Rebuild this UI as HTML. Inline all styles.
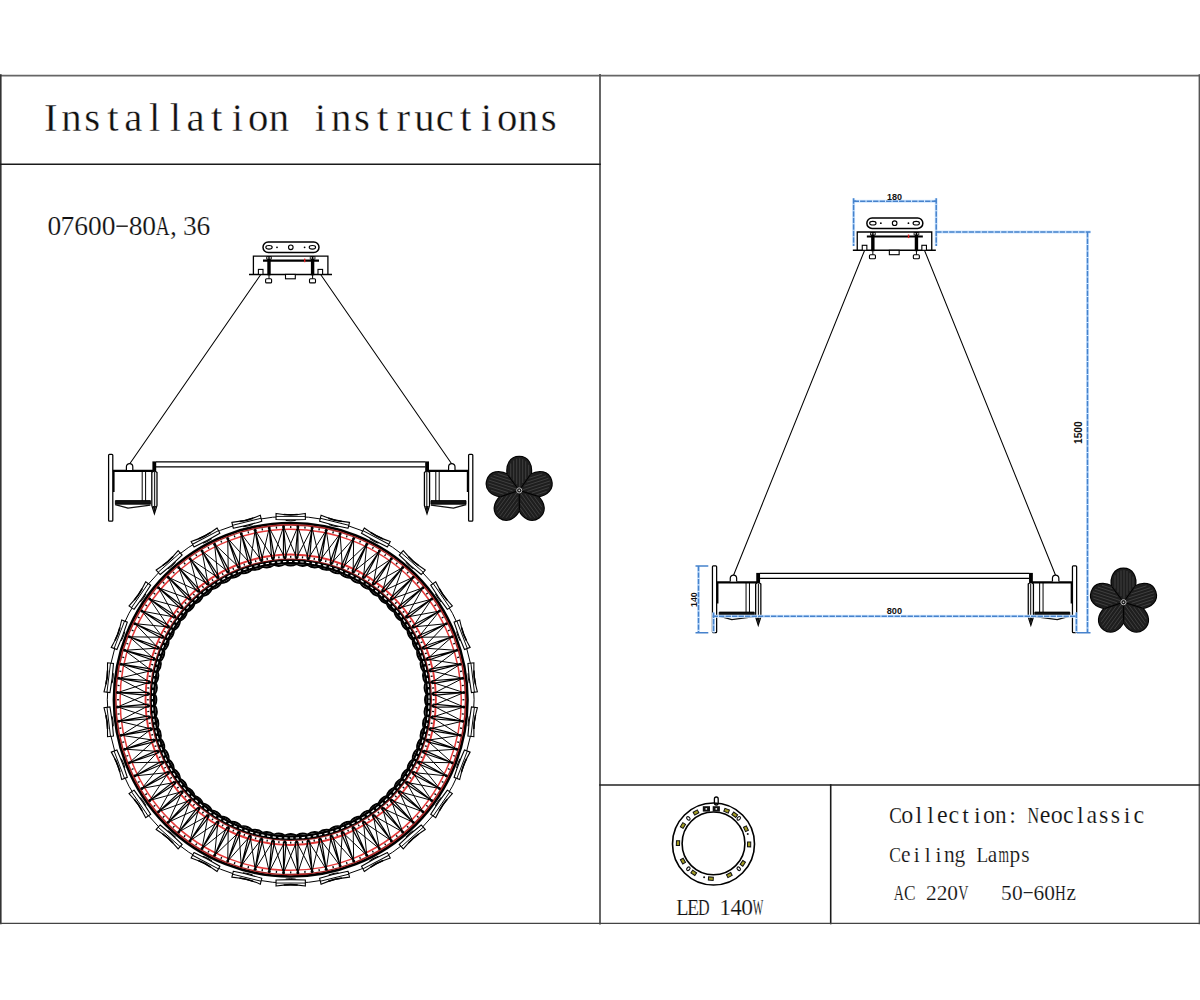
<!DOCTYPE html>
<html><head><meta charset="utf-8"><title>Installation instructions</title>
<style>html,body{margin:0;padding:0;background:#fff;width:1200px;height:1000px;overflow:hidden}svg{display:block}</style>
</head><body><svg width="1200" height="1000" viewBox="0 0 1200 1000"><g fill="none" stroke-linecap="square"><line x1="0" y1="75.6" x2="1200" y2="75.6" stroke="#666" stroke-width="1.6"/><line x1="0.8" y1="75" x2="0.8" y2="923.5" stroke="#333" stroke-width="1.6"/><line x1="1199.3" y1="75" x2="1199.3" y2="923.5" stroke="#555" stroke-width="1.4"/><line x1="600" y1="75" x2="600" y2="923.5" stroke="#555" stroke-width="1.8"/><line x1="0" y1="164.2" x2="600" y2="164.2" stroke="#1a1a1a" stroke-width="1.6"/><line x1="600" y1="785" x2="1200" y2="785" stroke="#222" stroke-width="1.6"/><line x1="830.7" y1="785" x2="830.7" y2="923.5" stroke="#1a1a1a" stroke-width="1.6"/><line x1="0" y1="923.4" x2="1200" y2="923.4" stroke="#444" stroke-width="1.4"/></g><g font-family="Liberation Serif" font-size="40.8" fill="#111" stroke="#fff" stroke-width="0.35"><text x="43.99" y="131">I</text><text x="61.19" y="131">n</text><text x="84.26" y="131">s</text><text x="107.3" y="131">t</text><text x="124.31" y="131">a</text><text x="148.88" y="131">l</text><text x="169.63" y="131">l</text><text x="186.56" y="131">a</text><text x="211.05" y="131">t</text><text x="231.84" y="131">i</text><text x="248.1" y="131">o</text><text x="268.69" y="131">n</text><text x="314.84" y="131">i</text><text x="330.94" y="131">n</text><text x="354.01" y="131">s</text><text x="377.05" y="131">t</text><text x="396.53" y="131">r</text><text transform="translate(424.3 131) scale(0.996 1.000)" x="-10.12" y="0">u</text><text x="435.85" y="131">c</text><text x="460.05" y="131">t</text><text x="480.84" y="131">i</text><text x="497.1" y="131">o</text><text x="517.69" y="131">n</text><text x="540.76" y="131">s</text></g><g font-family="Liberation Serif" font-size="27.5" fill="#111" stroke="#fff" stroke-width="0.2"><text x="47.38" y="235">0</text><text x="60.43" y="235">7</text><text x="74.33" y="235">6</text><text x="88.09" y="235">0</text><text x="101.66" y="235">0</text><rect x="116.4" y="225.49" width="11.4" height="1.38" stroke="none"/><text x="128.8" y="235">8</text><text x="142.37" y="235">0</text><text transform="translate(162.81 235) scale(0.700 1.000)" x="-9.96" y="0">A</text><text x="169.89" y="235">,</text><text x="182.95" y="235">3</text><text x="196.46" y="235">6</text></g><g font-family="Liberation Serif" font-size="24" fill="#111" stroke="#fff" stroke-width="0.15"><text transform="translate(895.5 823.3) scale(0.786 1.000)" x="-7.83" y="0">C</text><text transform="translate(907.2 823.3) scale(1.000 1.090)" x="-6" y="0">o</text><text x="915.57" y="823.3">l</text><text x="927.27" y="823.3">l</text><text transform="translate(942.3 823.3) scale(1.000 1.090)" x="-5.38" y="0">e</text><text transform="translate(954 823.3) scale(1.000 1.090)" x="-5.41" y="0">c</text><text x="962.32" y="823.3">t</text><text x="974.04" y="823.3">i</text><text transform="translate(989.1 823.3) scale(1.000 1.090)" x="-6" y="0">o</text><text transform="translate(1000.8 823.3) scale(0.971 1.090)" x="-6.09" y="0">n</text><text x="1009.19" y="823.3">:</text></g><g font-family="Liberation Serif" font-size="24" fill="#111" stroke="#fff" stroke-width="0.15"><text transform="translate(1033.3 823.3) scale(0.671 1.000)" x="-8.74" y="0">N</text><text transform="translate(1045.03 823.3) scale(1.000 1.090)" x="-5.38" y="0">e</text><text transform="translate(1056.76 823.3) scale(1.000 1.090)" x="-6" y="0">o</text><text transform="translate(1068.49 823.3) scale(1.000 1.090)" x="-5.41" y="0">c</text><text x="1076.89" y="823.3">l</text><text transform="translate(1091.95 823.3) scale(1.000 1.090)" x="-5.58" y="0">a</text><text transform="translate(1103.68 823.3) scale(1.000 1.090)" x="-4.73" y="0">s</text><text transform="translate(1115.41 823.3) scale(1.000 1.090)" x="-4.73" y="0">s</text><text x="1123.78" y="823.3">i</text><text transform="translate(1138.87 823.3) scale(1.000 1.090)" x="-5.41" y="0">c</text></g><g font-family="Liberation Serif" font-size="21.4" fill="#111" stroke="#fff" stroke-width="0.15"><text transform="translate(895 861.9) scale(0.819 1.000)" x="-6.99" y="0">C</text><text transform="translate(905.87 861.9) scale(1.000 1.090)" x="-4.8" y="0">e</text><text x="913.75" y="861.9">i</text><text x="924.64" y="861.9">l</text><text x="935.49" y="861.9">i</text><text transform="translate(949.35 861.9) scale(1.000 1.090)" x="-5.43" y="0">n</text><text transform="translate(960.22 861.9) scale(1.000 1.090)" x="-5.61" y="0">g</text><text transform="translate(981.96 861.9) scale(0.895 1.000)" x="-6.2" y="0">L</text><text transform="translate(992.83 861.9) scale(1.000 1.090)" x="-4.98" y="0">a</text><text transform="translate(1003.7 861.9) scale(0.630 1.090)" x="-8.38" y="0">m</text><text transform="translate(1014.57 861.9) scale(1.000 1.090)" x="-5.1" y="0">p</text><text transform="translate(1025.44 861.9) scale(1.000 1.090)" x="-4.22" y="0">s</text></g><g font-family="Liberation Serif" font-size="21.4" fill="#111" stroke="#fff" stroke-width="0.15"><text transform="translate(898.8 899.5) scale(0.657 1.000)" x="-7.75" y="0">A</text><text transform="translate(909.58 899.5) scale(0.812 1.000)" x="-6.99" y="0">C</text><text x="925.91" y="899.5">2</text><text x="936.69" y="899.5">2</text><text x="947.35" y="899.5">0</text><text transform="translate(963.48 899.5) scale(0.662 1.000)" x="-7.73" y="0">V</text><text x="1001.05" y="899.5">5</text><text x="1012.03" y="899.5">0</text><rect x="1023.63" y="892.08" width="9.06" height="1.1" stroke="none"/><text x="1033.45" y="899.5">6</text><text x="1044.37" y="899.5">0</text><text transform="translate(1060.5 899.5) scale(0.698 1.000)" x="-7.72" y="0">H</text><text transform="translate(1071.28 899.5) scale(1.000 1.090)" x="-4.74" y="0">z</text></g><g font-family="Liberation Serif" font-size="23.5" fill="#111" stroke="#fff" stroke-width="0.15"><text transform="translate(682 914.5) scale(0.858 1.000)" x="-6.81" y="0">L</text><text transform="translate(692.85 914.5) scale(0.841 1.000)" x="-6.93" y="0">E</text><text transform="translate(703.7 914.5) scale(0.685 1.000)" x="-8.35" y="0">D</text><text x="719.2" y="914.5">1</text><text transform="translate(736.25 914.5) scale(0.963 1.000)" x="-5.92" y="0">4</text><text x="741.23" y="914.5">0</text><text transform="translate(757.95 914.5) scale(0.476 1.000)" x="-11.08" y="0">W</text></g><defs><g id="canopy"><rect x="263" y="242" width="56" height="10.5" rx="5.25" fill="#fff" stroke="#000" stroke-width="1.5"/><ellipse cx="269" cy="247.3" rx="3.2" ry="1.8" fill="none" stroke="#000" stroke-width="1.1"/><ellipse cx="312.4" cy="247.3" rx="3.2" ry="1.8" fill="none" stroke="#000" stroke-width="1.1"/><circle cx="277" cy="247.3" r="0.9" fill="#000"/><circle cx="304.6" cy="247.3" r="0.9" fill="#000"/><circle cx="290.8" cy="247.3" r="2.3" fill="none" stroke="#000" stroke-width="1.1"/><path d="M253.4 274.4V256.1H327.9V274.4" fill="none" stroke="#000" stroke-width="1.3"/><line x1="249" y1="274.4" x2="332" y2="274.4" stroke="#000" stroke-width="1.5"/><line x1="263" y1="260.6" x2="319" y2="260.6" stroke="#000" stroke-width="2.2"/><rect x="267.3" y="256.3" width="3.4" height="19" fill="#000"/><rect x="310.9" y="256.3" width="3.4" height="19" fill="#000"/><rect x="258.4" y="269.4" width="4.6" height="5" fill="#fff" stroke="#000" stroke-width="1.1"/><rect x="318" y="269.4" width="4.6" height="5" fill="#fff" stroke="#000" stroke-width="1.1"/><rect x="285.5" y="274.4" width="9.8" height="4.4" fill="#fff" stroke="#000" stroke-width="1.1"/><rect x="265.6" y="278.8" width="6" height="4.1" rx="1" fill="#fff" stroke="#000" stroke-width="1.1"/><rect x="309.5" y="278.8" width="6" height="4.1" rx="1" fill="#fff" stroke="#000" stroke-width="1.1"/><line x1="269" y1="275" x2="269" y2="278.8" stroke="#000" stroke-width="1"/><line x1="312.6" y1="275" x2="312.6" y2="278.8" stroke="#000" stroke-width="1"/><rect x="304" y="258.6" width="1.4" height="3.6" fill="#e02020"/><rect x="266.2" y="256.4" width="5.6" height="3" fill="#000"/><rect x="309.8" y="256.4" width="5.6" height="3" fill="#000"/><g fill="#ddd"><rect x="266.9" y="257.2" width="1.5" height="1.4"/><rect x="269.6" y="257.2" width="1.5" height="1.4"/><rect x="310.5" y="257.2" width="1.5" height="1.4"/><rect x="313.2" y="257.2" width="1.5" height="1.4"/></g></g><g id="lamp"><rect x="108.6" y="454.4" width="4.2" height="66.8" rx="0.9" fill="#fff" stroke="#000" stroke-width="1.25"/><line x1="112.8" y1="470.8" x2="155.2" y2="470.8" stroke="#000" stroke-width="2.3"/><path d="M126.4 470V466.8A3.2 3.2 0 0 1 132.8 466.8V470" fill="#fff" stroke="#000" stroke-width="1.2"/><line x1="113.8" y1="471" x2="113.8" y2="492" stroke="#000" stroke-width="1.6"/><line x1="142.2" y1="471" x2="142.2" y2="501" stroke="#000" stroke-width="1"/><line x1="145.6" y1="471" x2="145.6" y2="501" stroke="#000" stroke-width="1"/><path d="M115.4 500.6H150.4V504.2H115.4Z" fill="#111" stroke="#000" stroke-width="0.9"/><path d="M115.2 504.6Q120 506 128 508.2L150.4 505.2" fill="none" stroke="#111" stroke-width="1.3"/><path d="M151.8 472.5Q154.4 469.5 157 472.5V505.5L154.4 513.6L151.8 505.5Z" fill="#f4f4f4" stroke="#000" stroke-width="1.25"/><path d="M154.6 472V506L154.4 512" stroke="#222" stroke-width="1.1" fill="none"/><path d="M152.6 506L154.4 512.5L156.2 506Z" fill="#111"/><rect x="152.4" y="461.4" width="3.8" height="10" fill="#000"/><g transform="translate(581.4 0) scale(-1 1)"><rect x="108.6" y="454.4" width="4.2" height="66.8" rx="0.9" fill="#fff" stroke="#000" stroke-width="1.25"/><line x1="112.8" y1="470.8" x2="155.2" y2="470.8" stroke="#000" stroke-width="2.3"/><path d="M126.4 470V466.8A3.2 3.2 0 0 1 132.8 466.8V470" fill="#fff" stroke="#000" stroke-width="1.2"/><line x1="113.8" y1="471" x2="113.8" y2="492" stroke="#000" stroke-width="1.6"/><line x1="142.2" y1="471" x2="142.2" y2="501" stroke="#000" stroke-width="1"/><line x1="145.6" y1="471" x2="145.6" y2="501" stroke="#000" stroke-width="1"/><path d="M115.4 500.6H150.4V504.2H115.4Z" fill="#111" stroke="#000" stroke-width="0.9"/><path d="M115.2 504.6Q120 506 128 508.2L150.4 505.2" fill="none" stroke="#111" stroke-width="1.3"/><path d="M151.8 472.5Q154.4 469.5 157 472.5V505.5L154.4 513.6L151.8 505.5Z" fill="#f4f4f4" stroke="#000" stroke-width="1.25"/><path d="M154.6 472V506L154.4 512" stroke="#222" stroke-width="1.1" fill="none"/><path d="M152.6 506L154.4 512.5L156.2 506Z" fill="#111"/><rect x="152.4" y="461.4" width="3.8" height="10" fill="#000"/></g><path d="M156 461.8H425.4M156 466.8H425.4" stroke="#000" stroke-width="1.3" fill="none"/></g></defs><use href="#canopy"/><path d="M260.6 274.8L129.6 464M320.8 274.8L451.8 464" stroke="#000" stroke-width="1.05" fill="none"/><use href="#lamp"/><g fill="#000" stroke="#000" stroke-width="2" stroke-linejoin="round"><path d="M519.2 490.4L507.6 474.8C505.8 465.3 510 456.8 519.2 456.8C528.4 456.8 532.6 465.3 530.8 474.8Z"/><path d="M519.2 490.4L530.45 474.55C538.93 469.9 548.31 471.27 551.16 480.02C554 488.77 547.21 495.39 537.62 496.61Z"/><path d="M519.2 490.4L537.75 496.2C544.79 502.83 546.39 512.18 538.95 517.58C531.51 522.99 523.11 518.58 518.98 509.84Z"/><path d="M519.2 490.4L519.42 509.84C515.29 518.58 506.89 522.99 499.45 517.58C492.01 512.18 493.61 502.83 500.65 496.2Z"/><path d="M519.2 490.4L500.78 496.61C491.19 495.39 484.4 488.77 487.24 480.02C490.09 471.27 499.47 469.9 507.95 474.55Z"/></g><g fill="#1e1e1e"><path d="M519.2 490.4L507.6 474.8C505.8 465.3 510 456.8 519.2 456.8C528.4 456.8 532.6 465.3 530.8 474.8Z"/><path d="M519.2 490.4L530.45 474.55C538.93 469.9 548.31 471.27 551.16 480.02C554 488.77 547.21 495.39 537.62 496.61Z"/><path d="M519.2 490.4L537.75 496.2C544.79 502.83 546.39 512.18 538.95 517.58C531.51 522.99 523.11 518.58 518.98 509.84Z"/><path d="M519.2 490.4L519.42 509.84C515.29 518.58 506.89 522.99 499.45 517.58C492.01 512.18 493.61 502.83 500.65 496.2Z"/><path d="M519.2 490.4L500.78 496.61C491.19 495.39 484.4 488.77 487.24 480.02C490.09 471.27 499.47 469.9 507.95 474.55Z"/></g><path d="M510.7 476.77L510.7 463.46M513.7 480.52L513.7 460.46M516.7 484.27L516.7 458.75M519.7 486.77L519.7 458.32M522.7 483.02L522.7 459.17M525.7 479.27L525.7 461.32M528.7 475.52L528.7 464.75M529.53 478.11L542.19 473.99M526.89 482.12L545.97 475.92M524.25 486.13L548.53 478.24M522.8 489.76L549.87 480.96M527.3 491.45L549.98 484.08M531.79 493.14L548.87 487.59M536.28 494.84L546.53 491.51M534.09 496.43L541.91 507.2M529.45 495.16L541.25 511.39M524.82 493.89L539.83 514.54M520.93 493.63L537.65 516.65M520.7 498.42L534.72 517.72M520.48 503.22L531.04 517.75M520.26 508.02L526.59 516.74M518.07 506.42L510.24 517.19M517.85 501.62L506.05 517.85M517.62 496.82L502.62 517.48M516.66 493.04L499.94 516.06M512.03 494.31L498.01 513.6M507.4 495.58L496.85 510.11M502.77 496.85L496.44 505.57M503.62 494.27L490.95 490.16M508.11 492.58L489.03 486.38M512.6 490.88L488.32 483M515.91 488.8L488.84 480.01M513.27 484.79L490.58 477.42M510.63 480.78L493.55 475.23M507.99 476.77L497.74 473.44" stroke="#4d4d4d" stroke-width="0.7" fill="none"/><path d="M519.2 490.4L507.6 474.8M519.2 490.4L530.45 474.55M519.2 490.4L537.75 496.2M519.2 490.4L519.42 509.84M519.2 490.4L500.78 496.61" stroke="#000" stroke-width="1" fill="none"/><circle cx="519.2" cy="490.4" r="2.6" fill="#1a1a1a" stroke="#bbb" stroke-width="1"/><circle cx="519.2" cy="490.4" r="0.8" fill="#ddd"/><circle cx="290.7" cy="699.75" r="183.4" fill="none" stroke="#000" stroke-width="1"/><defs><g id="crys" stroke="#000" stroke-width="1.1" fill="none"><path d="M-14.65 -3Q0 -0.6 14.65 -3L14.65 3Q0 3.9 -14.65 3Z" fill="#fff"/><path d="M-14.65 0H14.65" stroke-width="0.9"/><path d="M-7 -2Q0 -1.1 7 -2" stroke-width="1.6"/><path d="M-5 4Q0 4.8 5 4" stroke-width="1"/></g></defs><use href="#crys" transform="translate(290.7 699.75) rotate(0) translate(0 -183.3)"/><use href="#crys" transform="translate(290.7 699.75) rotate(13.85) translate(0 -183.3)"/><use href="#crys" transform="translate(290.7 699.75) rotate(27.69) translate(0 -183.3)"/><use href="#crys" transform="translate(290.7 699.75) rotate(41.54) translate(0 -183.3)"/><use href="#crys" transform="translate(290.7 699.75) rotate(55.38) translate(0 -183.3)"/><use href="#crys" transform="translate(290.7 699.75) rotate(69.23) translate(0 -183.3)"/><use href="#crys" transform="translate(290.7 699.75) rotate(83.08) translate(0 -183.3)"/><use href="#crys" transform="translate(290.7 699.75) rotate(96.92) translate(0 -183.3)"/><use href="#crys" transform="translate(290.7 699.75) rotate(110.77) translate(0 -183.3)"/><use href="#crys" transform="translate(290.7 699.75) rotate(124.62) translate(0 -183.3)"/><use href="#crys" transform="translate(290.7 699.75) rotate(138.46) translate(0 -183.3)"/><use href="#crys" transform="translate(290.7 699.75) rotate(152.31) translate(0 -183.3)"/><use href="#crys" transform="translate(290.7 699.75) rotate(166.15) translate(0 -183.3)"/><use href="#crys" transform="translate(290.7 699.75) rotate(180) translate(0 -183.3)"/><use href="#crys" transform="translate(290.7 699.75) rotate(193.85) translate(0 -183.3)"/><use href="#crys" transform="translate(290.7 699.75) rotate(207.69) translate(0 -183.3)"/><use href="#crys" transform="translate(290.7 699.75) rotate(221.54) translate(0 -183.3)"/><use href="#crys" transform="translate(290.7 699.75) rotate(235.38) translate(0 -183.3)"/><use href="#crys" transform="translate(290.7 699.75) rotate(249.23) translate(0 -183.3)"/><use href="#crys" transform="translate(290.7 699.75) rotate(263.08) translate(0 -183.3)"/><use href="#crys" transform="translate(290.7 699.75) rotate(276.92) translate(0 -183.3)"/><use href="#crys" transform="translate(290.7 699.75) rotate(290.77) translate(0 -183.3)"/><use href="#crys" transform="translate(290.7 699.75) rotate(304.62) translate(0 -183.3)"/><use href="#crys" transform="translate(290.7 699.75) rotate(318.46) translate(0 -183.3)"/><use href="#crys" transform="translate(290.7 699.75) rotate(332.31) translate(0 -183.3)"/><use href="#crys" transform="translate(290.7 699.75) rotate(346.15) translate(0 -183.3)"/><circle cx="290.7" cy="699.75" r="176.75" fill="none" stroke="#000" stroke-width="2.7"/><circle cx="290.7" cy="699.75" r="174.9" fill="none" stroke="#a82424" stroke-width="1.6"/><circle cx="290.7" cy="699.75" r="170.6" fill="none" stroke="#e53a3a" stroke-width="1.5"/><circle cx="290.7" cy="699.75" r="145.2" fill="none" stroke="#e23838" stroke-width="1.9"/><circle cx="290.7" cy="699.75" r="140.6" fill="none" stroke="#9a1c1c" stroke-width="1.5"/><path d="M297.86 526.7L284.82 557.67M297.86 526.7L308.29 558.64M312.12 527.88L296.58 557.67M312.12 527.88L319.88 560.58M326.24 530.24L308.29 558.64M326.24 530.24L331.27 563.46M340.12 533.75L319.88 560.58M340.12 533.75L342.39 567.28M353.66 538.4L331.27 563.46M353.66 538.4L353.15 572M366.77 544.15L342.39 567.28M366.77 544.15L363.49 577.59M379.36 550.96L353.15 572M379.36 550.96L373.33 584.02M391.34 558.79L363.49 577.59M391.34 558.79L382.6 591.24M402.64 567.58L373.33 584.02M402.64 567.58L391.25 599.2M413.17 577.28L382.6 591.24M413.17 577.28L399.21 607.85M422.87 587.81L391.25 599.2M422.87 587.81L406.43 617.12M431.66 599.11L399.21 607.85M431.66 599.11L412.86 626.96M439.49 611.09L406.43 617.12M439.49 611.09L418.45 637.3M446.3 623.68L412.86 626.96M446.3 623.68L423.17 648.06M452.05 636.79L418.45 637.3M452.05 636.79L426.99 659.18M456.7 650.33L423.17 648.06M456.7 650.33L429.87 670.57M460.21 664.21L426.99 659.18M460.21 664.21L431.81 682.16M462.57 678.33L429.87 670.57M462.57 678.33L432.78 693.87M463.75 692.59L431.81 682.16M463.75 692.59L432.78 705.63M463.75 706.91L432.78 693.87M463.75 706.91L431.81 717.34M462.57 721.17L432.78 705.63M462.57 721.17L429.87 728.93M460.21 735.29L431.81 717.34M460.21 735.29L426.99 740.32M456.7 749.17L429.87 728.93M456.7 749.17L423.17 751.44M452.05 762.71L426.99 740.32M452.05 762.71L418.45 762.2M446.3 775.82L423.17 751.44M446.3 775.82L412.86 772.54M439.49 788.41L418.45 762.2M439.49 788.41L406.43 782.38M431.66 800.39L412.86 772.54M431.66 800.39L399.21 791.65M422.87 811.69L406.43 782.38M422.87 811.69L391.25 800.3M413.17 822.22L399.21 791.65M413.17 822.22L382.6 808.26M402.64 831.92L391.25 800.3M402.64 831.92L373.33 815.48M391.34 840.71L382.6 808.26M391.34 840.71L363.49 821.91M379.36 848.54L373.33 815.48M379.36 848.54L353.15 827.5M366.77 855.35L363.49 821.91M366.77 855.35L342.39 832.22M353.66 861.1L353.15 827.5M353.66 861.1L331.27 836.04M340.12 865.75L342.39 832.22M340.12 865.75L319.88 838.92M326.24 869.26L331.27 836.04M326.24 869.26L308.29 840.86M312.12 871.62L319.88 838.92M312.12 871.62L296.58 841.83M297.86 872.8L308.29 840.86M297.86 872.8L284.82 841.83M283.54 872.8L296.58 841.83M283.54 872.8L273.11 840.86M269.28 871.62L284.82 841.83M269.28 871.62L261.52 838.92M255.16 869.26L273.11 840.86M255.16 869.26L250.13 836.04M241.28 865.75L261.52 838.92M241.28 865.75L239.01 832.22M227.74 861.1L250.13 836.04M227.74 861.1L228.25 827.5M214.63 855.35L239.01 832.22M214.63 855.35L217.91 821.91M202.04 848.54L228.25 827.5M202.04 848.54L208.07 815.48M190.06 840.71L217.91 821.91M190.06 840.71L198.8 808.26M178.76 831.92L208.07 815.48M178.76 831.92L190.15 800.3M168.23 822.22L198.8 808.26M168.23 822.22L182.19 791.65M158.53 811.69L190.15 800.3M158.53 811.69L174.97 782.38M149.74 800.39L182.19 791.65M149.74 800.39L168.54 772.54M141.91 788.41L174.97 782.38M141.91 788.41L162.95 762.2M135.1 775.82L168.54 772.54M135.1 775.82L158.23 751.44M129.35 762.71L162.95 762.2M129.35 762.71L154.41 740.32M124.7 749.17L158.23 751.44M124.7 749.17L151.53 728.93M121.19 735.29L154.41 740.32M121.19 735.29L149.59 717.34M118.83 721.17L151.53 728.93M118.83 721.17L148.62 705.63M117.65 706.91L149.59 717.34M117.65 706.91L148.62 693.87M117.65 692.59L148.62 705.63M117.65 692.59L149.59 682.16M118.83 678.33L148.62 693.87M118.83 678.33L151.53 670.57M121.19 664.21L149.59 682.16M121.19 664.21L154.41 659.18M124.7 650.33L151.53 670.57M124.7 650.33L158.23 648.06M129.35 636.79L154.41 659.18M129.35 636.79L162.95 637.3M135.1 623.68L158.23 648.06M135.1 623.68L168.54 626.96M141.91 611.09L162.95 637.3M141.91 611.09L174.97 617.12M149.74 599.11L168.54 626.96M149.74 599.11L182.19 607.85M158.53 587.81L174.97 617.12M158.53 587.81L190.15 599.2M168.23 577.28L182.19 607.85M168.23 577.28L198.8 591.24M178.76 567.58L190.15 599.2M178.76 567.58L208.07 584.02M190.06 558.79L198.8 591.24M190.06 558.79L217.91 577.59M202.04 550.96L208.07 584.02M202.04 550.96L228.25 572M214.63 544.15L217.91 577.59M214.63 544.15L239.01 567.28M227.74 538.4L228.25 572M227.74 538.4L250.13 563.46M241.28 533.75L239.01 567.28M241.28 533.75L261.52 560.58M255.16 530.24L250.13 563.46M255.16 530.24L273.11 558.64M269.28 527.88L261.52 560.58M269.28 527.88L284.82 557.67M283.54 526.7L273.11 558.64M283.54 526.7L296.58 557.67" stroke="#000" stroke-width="1" fill="none"/><path d="M297.86 526.7L295.17 557.62M297.86 526.7L297.99 557.74M312.12 527.88L306.89 558.47M312.12 527.88L309.69 558.82M326.24 530.24L318.5 560.29M326.24 530.24L321.26 560.87M340.12 533.75L329.92 563.07M340.12 533.75L332.62 563.87M353.66 538.4L341.07 566.77M353.66 538.4L343.7 567.8M366.77 544.15L351.88 571.39M366.77 544.15L354.42 572.62M379.36 550.96L362.27 576.88M379.36 550.96L364.7 578.32M391.34 558.79L372.18 583.21M391.34 558.79L374.47 584.85M402.64 567.58L381.52 590.33M402.64 567.58L383.68 592.16M413.17 577.28L390.25 598.21M413.17 577.28L392.24 600.2M422.87 587.81L398.29 606.77M422.87 587.81L400.12 608.93M431.66 599.11L405.6 615.98M431.66 599.11L407.24 618.27M439.49 611.09L412.13 625.75M439.49 611.09L413.57 628.18M446.3 623.68L417.83 636.03M446.3 623.68L419.06 638.57M452.05 636.79L422.65 646.75M452.05 636.79L423.68 649.38M456.7 650.33L426.58 657.83M456.7 650.33L427.38 660.53M460.21 664.21L429.58 669.19M460.21 664.21L430.16 671.95M462.57 678.33L431.63 680.76M462.57 678.33L431.98 683.56M463.75 692.59L432.71 692.46M463.75 692.59L432.83 695.28M463.75 706.91L432.83 704.22M463.75 706.91L432.71 707.04M462.57 721.17L431.98 715.94M462.57 721.17L431.63 718.74M460.21 735.29L430.16 727.55M460.21 735.29L429.58 730.31M456.7 749.17L427.38 738.97M456.7 749.17L426.58 741.67M452.05 762.71L423.68 750.12M452.05 762.71L422.65 752.75M446.3 775.82L419.06 760.93M446.3 775.82L417.83 763.47M439.49 788.41L413.57 771.32M439.49 788.41L412.13 773.75M431.66 800.39L407.24 781.23M431.66 800.39L405.6 783.52M422.87 811.69L400.12 790.57M422.87 811.69L398.29 792.73M413.17 822.22L392.24 799.3M413.17 822.22L390.25 801.29M402.64 831.92L383.68 807.34M402.64 831.92L381.52 809.17M391.34 840.71L374.47 814.65M391.34 840.71L372.18 816.29M379.36 848.54L364.7 821.18M379.36 848.54L362.27 822.62M366.77 855.35L354.42 826.88M366.77 855.35L351.88 828.11M353.66 861.1L343.7 831.7M353.66 861.1L341.07 832.73M340.12 865.75L332.62 835.63M340.12 865.75L329.92 836.43M326.24 869.26L321.26 838.63M326.24 869.26L318.5 839.21M312.12 871.62L309.69 840.68M312.12 871.62L306.89 841.03M297.86 872.8L297.99 841.76M297.86 872.8L295.17 841.88M283.54 872.8L286.23 841.88M283.54 872.8L283.41 841.76M269.28 871.62L274.51 841.03M269.28 871.62L271.71 840.68M255.16 869.26L262.9 839.21M255.16 869.26L260.14 838.63M241.28 865.75L251.48 836.43M241.28 865.75L248.78 835.63M227.74 861.1L240.33 832.73M227.74 861.1L237.7 831.7M214.63 855.35L229.52 828.11M214.63 855.35L226.98 826.88M202.04 848.54L219.13 822.62M202.04 848.54L216.7 821.18M190.06 840.71L209.22 816.29M190.06 840.71L206.93 814.65M178.76 831.92L199.88 809.17M178.76 831.92L197.72 807.34M168.23 822.22L191.15 801.29M168.23 822.22L189.16 799.3M158.53 811.69L183.11 792.73M158.53 811.69L181.28 790.57M149.74 800.39L175.8 783.52M149.74 800.39L174.16 781.23M141.91 788.41L169.27 773.75M141.91 788.41L167.83 771.32M135.1 775.82L163.57 763.47M135.1 775.82L162.34 760.93M129.35 762.71L158.75 752.75M129.35 762.71L157.72 750.12M124.7 749.17L154.82 741.67M124.7 749.17L154.02 738.97M121.19 735.29L151.82 730.31M121.19 735.29L151.24 727.55M118.83 721.17L149.77 718.74M118.83 721.17L149.42 715.94M117.65 706.91L148.69 707.04M117.65 706.91L148.57 704.22M117.65 692.59L148.57 695.28M117.65 692.59L148.69 692.46M118.83 678.33L149.42 683.56M118.83 678.33L149.77 680.76M121.19 664.21L151.24 671.95M121.19 664.21L151.82 669.19M124.7 650.33L154.02 660.53M124.7 650.33L154.82 657.83M129.35 636.79L157.72 649.38M129.35 636.79L158.75 646.75M135.1 623.68L162.34 638.57M135.1 623.68L163.57 636.03M141.91 611.09L167.83 628.18M141.91 611.09L169.27 625.75M149.74 599.11L174.16 618.27M149.74 599.11L175.8 615.98M158.53 587.81L181.28 608.93M158.53 587.81L183.11 606.77M168.23 577.28L189.16 600.2M168.23 577.28L191.15 598.21M178.76 567.58L197.72 592.16M178.76 567.58L199.88 590.33M190.06 558.79L206.93 584.85M190.06 558.79L209.22 583.21M202.04 550.96L216.7 578.32M202.04 550.96L219.13 576.88M214.63 544.15L226.98 572.62M214.63 544.15L229.52 571.39M227.74 538.4L237.7 567.8M227.74 538.4L240.33 566.77M241.28 533.75L248.78 563.87M241.28 533.75L251.48 563.07M255.16 530.24L260.14 560.87M255.16 530.24L262.9 560.29M269.28 527.88L271.71 558.82M269.28 527.88L274.51 558.47M283.54 526.7L283.41 557.74M283.54 526.7L286.23 557.62" stroke="#000" stroke-width="1.2" fill="none"/><g fill="#000"><circle cx="297.86" cy="526.7" r="1.5"/><circle cx="296.58" cy="557.67" r="1.5"/><rect transform="translate(304.96 527.64) rotate(4.74)" x="-0.65" y="-1" width="1.3" height="2"/><rect transform="translate(302.5 557.34) rotate(4.74)" x="-0.65" y="-1" width="1.3" height="2"/><circle cx="312.12" cy="527.88" r="1.5"/><circle cx="308.29" cy="558.64" r="1.5"/><rect transform="translate(319.13 529.41) rotate(9.47)" x="-0.65" y="-1" width="1.3" height="2"/><rect transform="translate(314.22 558.8) rotate(9.47)" x="-0.65" y="-1" width="1.3" height="2"/><circle cx="326.24" cy="530.24" r="1.5"/><circle cx="319.88" cy="560.58" r="1.5"/><rect transform="translate(333.1 532.33) rotate(14.21)" x="-0.65" y="-1" width="1.3" height="2"/><rect transform="translate(325.78 561.22) rotate(14.21)" x="-0.65" y="-1" width="1.3" height="2"/><circle cx="340.12" cy="533.75" r="1.5"/><circle cx="331.27" cy="563.46" r="1.5"/><rect transform="translate(346.78 536.41) rotate(18.95)" x="-0.65" y="-1" width="1.3" height="2"/><rect transform="translate(337.1 564.59) rotate(18.95)" x="-0.65" y="-1" width="1.3" height="2"/><circle cx="353.66" cy="538.4" r="1.5"/><circle cx="342.39" cy="567.28" r="1.5"/><rect transform="translate(360.07 541.6) rotate(23.68)" x="-0.65" y="-1" width="1.3" height="2"/><rect transform="translate(348.1 568.89) rotate(23.68)" x="-0.65" y="-1" width="1.3" height="2"/><circle cx="366.77" cy="544.15" r="1.5"/><circle cx="353.15" cy="572" r="1.5"/><rect transform="translate(372.9 547.86) rotate(28.42)" x="-0.65" y="-1" width="1.3" height="2"/><rect transform="translate(358.71 574.07) rotate(28.42)" x="-0.65" y="-1" width="1.3" height="2"/><circle cx="379.36" cy="550.96" r="1.5"/><circle cx="363.49" cy="577.59" r="1.5"/><rect transform="translate(385.16 555.17) rotate(33.16)" x="-0.65" y="-1" width="1.3" height="2"/><rect transform="translate(368.86 580.12) rotate(33.16)" x="-0.65" y="-1" width="1.3" height="2"/><circle cx="391.34" cy="558.79" r="1.5"/><circle cx="373.33" cy="584.02" r="1.5"/><rect transform="translate(396.77 563.47) rotate(37.89)" x="-0.65" y="-1" width="1.3" height="2"/><rect transform="translate(378.47 586.98) rotate(37.89)" x="-0.65" y="-1" width="1.3" height="2"/><circle cx="402.64" cy="567.58" r="1.5"/><circle cx="382.6" cy="591.24" r="1.5"/><rect transform="translate(407.67 572.69) rotate(42.63)" x="-0.65" y="-1" width="1.3" height="2"/><rect transform="translate(387.48 594.62) rotate(42.63)" x="-0.65" y="-1" width="1.3" height="2"/><circle cx="413.17" cy="577.28" r="1.5"/><circle cx="391.25" cy="599.2" r="1.5"/><rect transform="translate(417.76 582.78) rotate(47.37)" x="-0.65" y="-1" width="1.3" height="2"/><rect transform="translate(395.83 602.97) rotate(47.37)" x="-0.65" y="-1" width="1.3" height="2"/><circle cx="422.87" cy="587.81" r="1.5"/><circle cx="399.21" cy="607.85" r="1.5"/><rect transform="translate(426.98 593.68) rotate(52.11)" x="-0.65" y="-1" width="1.3" height="2"/><rect transform="translate(403.47 611.98) rotate(52.11)" x="-0.65" y="-1" width="1.3" height="2"/><circle cx="431.66" cy="599.11" r="1.5"/><circle cx="406.43" cy="617.12" r="1.5"/><rect transform="translate(435.28 605.29) rotate(56.84)" x="-0.65" y="-1" width="1.3" height="2"/><rect transform="translate(410.33 621.59) rotate(56.84)" x="-0.65" y="-1" width="1.3" height="2"/><circle cx="439.49" cy="611.09" r="1.5"/><circle cx="412.86" cy="626.96" r="1.5"/><rect transform="translate(442.59 617.55) rotate(61.58)" x="-0.65" y="-1" width="1.3" height="2"/><rect transform="translate(416.38 631.74) rotate(61.58)" x="-0.65" y="-1" width="1.3" height="2"/><circle cx="446.3" cy="623.68" r="1.5"/><circle cx="418.45" cy="637.3" r="1.5"/><rect transform="translate(448.85 630.38) rotate(66.32)" x="-0.65" y="-1" width="1.3" height="2"/><rect transform="translate(421.56 642.35) rotate(66.32)" x="-0.65" y="-1" width="1.3" height="2"/><circle cx="452.05" cy="636.79" r="1.5"/><circle cx="423.17" cy="648.06" r="1.5"/><rect transform="translate(454.04 643.67) rotate(71.05)" x="-0.65" y="-1" width="1.3" height="2"/><rect transform="translate(425.86 653.35) rotate(71.05)" x="-0.65" y="-1" width="1.3" height="2"/><circle cx="456.7" cy="650.33" r="1.5"/><circle cx="426.99" cy="659.18" r="1.5"/><rect transform="translate(458.12 657.35) rotate(75.79)" x="-0.65" y="-1" width="1.3" height="2"/><rect transform="translate(429.23 664.67) rotate(75.79)" x="-0.65" y="-1" width="1.3" height="2"/><circle cx="460.21" cy="664.21" r="1.5"/><circle cx="429.87" cy="670.57" r="1.5"/><rect transform="translate(461.04 671.32) rotate(80.53)" x="-0.65" y="-1" width="1.3" height="2"/><rect transform="translate(431.65 676.23) rotate(80.53)" x="-0.65" y="-1" width="1.3" height="2"/><circle cx="462.57" cy="678.33" r="1.5"/><circle cx="431.81" cy="682.16" r="1.5"/><rect transform="translate(462.81 685.49) rotate(85.26)" x="-0.65" y="-1" width="1.3" height="2"/><rect transform="translate(433.11 687.95) rotate(85.26)" x="-0.65" y="-1" width="1.3" height="2"/><circle cx="463.75" cy="692.59" r="1.5"/><circle cx="432.78" cy="693.87" r="1.5"/><rect transform="translate(463.4 699.75) rotate(90)" x="-0.65" y="-1" width="1.3" height="2"/><rect transform="translate(433.6 699.75) rotate(90)" x="-0.65" y="-1" width="1.3" height="2"/><circle cx="463.75" cy="706.91" r="1.5"/><circle cx="432.78" cy="705.63" r="1.5"/><rect transform="translate(462.81 714.01) rotate(94.74)" x="-0.65" y="-1" width="1.3" height="2"/><rect transform="translate(433.11 711.55) rotate(94.74)" x="-0.65" y="-1" width="1.3" height="2"/><circle cx="462.57" cy="721.17" r="1.5"/><circle cx="431.81" cy="717.34" r="1.5"/><rect transform="translate(461.04 728.18) rotate(99.47)" x="-0.65" y="-1" width="1.3" height="2"/><rect transform="translate(431.65 723.27) rotate(99.47)" x="-0.65" y="-1" width="1.3" height="2"/><circle cx="460.21" cy="735.29" r="1.5"/><circle cx="429.87" cy="728.93" r="1.5"/><rect transform="translate(458.12 742.15) rotate(104.21)" x="-0.65" y="-1" width="1.3" height="2"/><rect transform="translate(429.23 734.83) rotate(104.21)" x="-0.65" y="-1" width="1.3" height="2"/><circle cx="456.7" cy="749.17" r="1.5"/><circle cx="426.99" cy="740.32" r="1.5"/><rect transform="translate(454.04 755.83) rotate(108.95)" x="-0.65" y="-1" width="1.3" height="2"/><rect transform="translate(425.86 746.15) rotate(108.95)" x="-0.65" y="-1" width="1.3" height="2"/><circle cx="452.05" cy="762.71" r="1.5"/><circle cx="423.17" cy="751.44" r="1.5"/><rect transform="translate(448.85 769.12) rotate(113.68)" x="-0.65" y="-1" width="1.3" height="2"/><rect transform="translate(421.56 757.15) rotate(113.68)" x="-0.65" y="-1" width="1.3" height="2"/><circle cx="446.3" cy="775.82" r="1.5"/><circle cx="418.45" cy="762.2" r="1.5"/><rect transform="translate(442.59 781.95) rotate(118.42)" x="-0.65" y="-1" width="1.3" height="2"/><rect transform="translate(416.38 767.76) rotate(118.42)" x="-0.65" y="-1" width="1.3" height="2"/><circle cx="439.49" cy="788.41" r="1.5"/><circle cx="412.86" cy="772.54" r="1.5"/><rect transform="translate(435.28 794.21) rotate(123.16)" x="-0.65" y="-1" width="1.3" height="2"/><rect transform="translate(410.33 777.91) rotate(123.16)" x="-0.65" y="-1" width="1.3" height="2"/><circle cx="431.66" cy="800.39" r="1.5"/><circle cx="406.43" cy="782.38" r="1.5"/><rect transform="translate(426.98 805.82) rotate(127.89)" x="-0.65" y="-1" width="1.3" height="2"/><rect transform="translate(403.47 787.52) rotate(127.89)" x="-0.65" y="-1" width="1.3" height="2"/><circle cx="422.87" cy="811.69" r="1.5"/><circle cx="399.21" cy="791.65" r="1.5"/><rect transform="translate(417.76 816.72) rotate(132.63)" x="-0.65" y="-1" width="1.3" height="2"/><rect transform="translate(395.83 796.53) rotate(132.63)" x="-0.65" y="-1" width="1.3" height="2"/><circle cx="413.17" cy="822.22" r="1.5"/><circle cx="391.25" cy="800.3" r="1.5"/><rect transform="translate(407.67 826.81) rotate(137.37)" x="-0.65" y="-1" width="1.3" height="2"/><rect transform="translate(387.48 804.88) rotate(137.37)" x="-0.65" y="-1" width="1.3" height="2"/><circle cx="402.64" cy="831.92" r="1.5"/><circle cx="382.6" cy="808.26" r="1.5"/><rect transform="translate(396.77 836.03) rotate(142.11)" x="-0.65" y="-1" width="1.3" height="2"/><rect transform="translate(378.47 812.52) rotate(142.11)" x="-0.65" y="-1" width="1.3" height="2"/><circle cx="391.34" cy="840.71" r="1.5"/><circle cx="373.33" cy="815.48" r="1.5"/><rect transform="translate(385.16 844.33) rotate(146.84)" x="-0.65" y="-1" width="1.3" height="2"/><rect transform="translate(368.86 819.38) rotate(146.84)" x="-0.65" y="-1" width="1.3" height="2"/><circle cx="379.36" cy="848.54" r="1.5"/><circle cx="363.49" cy="821.91" r="1.5"/><rect transform="translate(372.9 851.64) rotate(151.58)" x="-0.65" y="-1" width="1.3" height="2"/><rect transform="translate(358.71 825.43) rotate(151.58)" x="-0.65" y="-1" width="1.3" height="2"/><circle cx="366.77" cy="855.35" r="1.5"/><circle cx="353.15" cy="827.5" r="1.5"/><rect transform="translate(360.07 857.9) rotate(156.32)" x="-0.65" y="-1" width="1.3" height="2"/><rect transform="translate(348.1 830.61) rotate(156.32)" x="-0.65" y="-1" width="1.3" height="2"/><circle cx="353.66" cy="861.1" r="1.5"/><circle cx="342.39" cy="832.22" r="1.5"/><rect transform="translate(346.78 863.09) rotate(161.05)" x="-0.65" y="-1" width="1.3" height="2"/><rect transform="translate(337.1 834.91) rotate(161.05)" x="-0.65" y="-1" width="1.3" height="2"/><circle cx="340.12" cy="865.75" r="1.5"/><circle cx="331.27" cy="836.04" r="1.5"/><rect transform="translate(333.1 867.17) rotate(165.79)" x="-0.65" y="-1" width="1.3" height="2"/><rect transform="translate(325.78 838.28) rotate(165.79)" x="-0.65" y="-1" width="1.3" height="2"/><circle cx="326.24" cy="869.26" r="1.5"/><circle cx="319.88" cy="838.92" r="1.5"/><rect transform="translate(319.13 870.09) rotate(170.53)" x="-0.65" y="-1" width="1.3" height="2"/><rect transform="translate(314.22 840.7) rotate(170.53)" x="-0.65" y="-1" width="1.3" height="2"/><circle cx="312.12" cy="871.62" r="1.5"/><circle cx="308.29" cy="840.86" r="1.5"/><rect transform="translate(304.96 871.86) rotate(175.26)" x="-0.65" y="-1" width="1.3" height="2"/><rect transform="translate(302.5 842.16) rotate(175.26)" x="-0.65" y="-1" width="1.3" height="2"/><circle cx="297.86" cy="872.8" r="1.5"/><circle cx="296.58" cy="841.83" r="1.5"/><rect transform="translate(290.7 872.45) rotate(180)" x="-0.65" y="-1" width="1.3" height="2"/><rect transform="translate(290.7 842.65) rotate(180)" x="-0.65" y="-1" width="1.3" height="2"/><circle cx="283.54" cy="872.8" r="1.5"/><circle cx="284.82" cy="841.83" r="1.5"/><rect transform="translate(276.44 871.86) rotate(184.74)" x="-0.65" y="-1" width="1.3" height="2"/><rect transform="translate(278.9 842.16) rotate(184.74)" x="-0.65" y="-1" width="1.3" height="2"/><circle cx="269.28" cy="871.62" r="1.5"/><circle cx="273.11" cy="840.86" r="1.5"/><rect transform="translate(262.27 870.09) rotate(189.47)" x="-0.65" y="-1" width="1.3" height="2"/><rect transform="translate(267.18 840.7) rotate(189.47)" x="-0.65" y="-1" width="1.3" height="2"/><circle cx="255.16" cy="869.26" r="1.5"/><circle cx="261.52" cy="838.92" r="1.5"/><rect transform="translate(248.3 867.17) rotate(194.21)" x="-0.65" y="-1" width="1.3" height="2"/><rect transform="translate(255.62 838.28) rotate(194.21)" x="-0.65" y="-1" width="1.3" height="2"/><circle cx="241.28" cy="865.75" r="1.5"/><circle cx="250.13" cy="836.04" r="1.5"/><rect transform="translate(234.62 863.09) rotate(198.95)" x="-0.65" y="-1" width="1.3" height="2"/><rect transform="translate(244.3 834.91) rotate(198.95)" x="-0.65" y="-1" width="1.3" height="2"/><circle cx="227.74" cy="861.1" r="1.5"/><circle cx="239.01" cy="832.22" r="1.5"/><rect transform="translate(221.33 857.9) rotate(203.68)" x="-0.65" y="-1" width="1.3" height="2"/><rect transform="translate(233.3 830.61) rotate(203.68)" x="-0.65" y="-1" width="1.3" height="2"/><circle cx="214.63" cy="855.35" r="1.5"/><circle cx="228.25" cy="827.5" r="1.5"/><rect transform="translate(208.5 851.64) rotate(208.42)" x="-0.65" y="-1" width="1.3" height="2"/><rect transform="translate(222.69 825.43) rotate(208.42)" x="-0.65" y="-1" width="1.3" height="2"/><circle cx="202.04" cy="848.54" r="1.5"/><circle cx="217.91" cy="821.91" r="1.5"/><rect transform="translate(196.24 844.33) rotate(213.16)" x="-0.65" y="-1" width="1.3" height="2"/><rect transform="translate(212.54 819.38) rotate(213.16)" x="-0.65" y="-1" width="1.3" height="2"/><circle cx="190.06" cy="840.71" r="1.5"/><circle cx="208.07" cy="815.48" r="1.5"/><rect transform="translate(184.63 836.03) rotate(217.89)" x="-0.65" y="-1" width="1.3" height="2"/><rect transform="translate(202.93 812.52) rotate(217.89)" x="-0.65" y="-1" width="1.3" height="2"/><circle cx="178.76" cy="831.92" r="1.5"/><circle cx="198.8" cy="808.26" r="1.5"/><rect transform="translate(173.73 826.81) rotate(222.63)" x="-0.65" y="-1" width="1.3" height="2"/><rect transform="translate(193.92 804.88) rotate(222.63)" x="-0.65" y="-1" width="1.3" height="2"/><circle cx="168.23" cy="822.22" r="1.5"/><circle cx="190.15" cy="800.3" r="1.5"/><rect transform="translate(163.64 816.72) rotate(227.37)" x="-0.65" y="-1" width="1.3" height="2"/><rect transform="translate(185.57 796.53) rotate(227.37)" x="-0.65" y="-1" width="1.3" height="2"/><circle cx="158.53" cy="811.69" r="1.5"/><circle cx="182.19" cy="791.65" r="1.5"/><rect transform="translate(154.42 805.82) rotate(232.11)" x="-0.65" y="-1" width="1.3" height="2"/><rect transform="translate(177.93 787.52) rotate(232.11)" x="-0.65" y="-1" width="1.3" height="2"/><circle cx="149.74" cy="800.39" r="1.5"/><circle cx="174.97" cy="782.38" r="1.5"/><rect transform="translate(146.12 794.21) rotate(236.84)" x="-0.65" y="-1" width="1.3" height="2"/><rect transform="translate(171.07 777.91) rotate(236.84)" x="-0.65" y="-1" width="1.3" height="2"/><circle cx="141.91" cy="788.41" r="1.5"/><circle cx="168.54" cy="772.54" r="1.5"/><rect transform="translate(138.81 781.95) rotate(241.58)" x="-0.65" y="-1" width="1.3" height="2"/><rect transform="translate(165.02 767.76) rotate(241.58)" x="-0.65" y="-1" width="1.3" height="2"/><circle cx="135.1" cy="775.82" r="1.5"/><circle cx="162.95" cy="762.2" r="1.5"/><rect transform="translate(132.55 769.12) rotate(246.32)" x="-0.65" y="-1" width="1.3" height="2"/><rect transform="translate(159.84 757.15) rotate(246.32)" x="-0.65" y="-1" width="1.3" height="2"/><circle cx="129.35" cy="762.71" r="1.5"/><circle cx="158.23" cy="751.44" r="1.5"/><rect transform="translate(127.36 755.83) rotate(251.05)" x="-0.65" y="-1" width="1.3" height="2"/><rect transform="translate(155.54 746.15) rotate(251.05)" x="-0.65" y="-1" width="1.3" height="2"/><circle cx="124.7" cy="749.17" r="1.5"/><circle cx="154.41" cy="740.32" r="1.5"/><rect transform="translate(123.28 742.15) rotate(255.79)" x="-0.65" y="-1" width="1.3" height="2"/><rect transform="translate(152.17 734.83) rotate(255.79)" x="-0.65" y="-1" width="1.3" height="2"/><circle cx="121.19" cy="735.29" r="1.5"/><circle cx="151.53" cy="728.93" r="1.5"/><rect transform="translate(120.36 728.18) rotate(260.53)" x="-0.65" y="-1" width="1.3" height="2"/><rect transform="translate(149.75 723.27) rotate(260.53)" x="-0.65" y="-1" width="1.3" height="2"/><circle cx="118.83" cy="721.17" r="1.5"/><circle cx="149.59" cy="717.34" r="1.5"/><rect transform="translate(118.59 714.01) rotate(265.26)" x="-0.65" y="-1" width="1.3" height="2"/><rect transform="translate(148.29 711.55) rotate(265.26)" x="-0.65" y="-1" width="1.3" height="2"/><circle cx="117.65" cy="706.91" r="1.5"/><circle cx="148.62" cy="705.63" r="1.5"/><rect transform="translate(118 699.75) rotate(270)" x="-0.65" y="-1" width="1.3" height="2"/><rect transform="translate(147.8 699.75) rotate(270)" x="-0.65" y="-1" width="1.3" height="2"/><circle cx="117.65" cy="692.59" r="1.5"/><circle cx="148.62" cy="693.87" r="1.5"/><rect transform="translate(118.59 685.49) rotate(274.74)" x="-0.65" y="-1" width="1.3" height="2"/><rect transform="translate(148.29 687.95) rotate(274.74)" x="-0.65" y="-1" width="1.3" height="2"/><circle cx="118.83" cy="678.33" r="1.5"/><circle cx="149.59" cy="682.16" r="1.5"/><rect transform="translate(120.36 671.32) rotate(279.47)" x="-0.65" y="-1" width="1.3" height="2"/><rect transform="translate(149.75 676.23) rotate(279.47)" x="-0.65" y="-1" width="1.3" height="2"/><circle cx="121.19" cy="664.21" r="1.5"/><circle cx="151.53" cy="670.57" r="1.5"/><rect transform="translate(123.28 657.35) rotate(284.21)" x="-0.65" y="-1" width="1.3" height="2"/><rect transform="translate(152.17 664.67) rotate(284.21)" x="-0.65" y="-1" width="1.3" height="2"/><circle cx="124.7" cy="650.33" r="1.5"/><circle cx="154.41" cy="659.18" r="1.5"/><rect transform="translate(127.36 643.67) rotate(288.95)" x="-0.65" y="-1" width="1.3" height="2"/><rect transform="translate(155.54 653.35) rotate(288.95)" x="-0.65" y="-1" width="1.3" height="2"/><circle cx="129.35" cy="636.79" r="1.5"/><circle cx="158.23" cy="648.06" r="1.5"/><rect transform="translate(132.55 630.38) rotate(293.68)" x="-0.65" y="-1" width="1.3" height="2"/><rect transform="translate(159.84 642.35) rotate(293.68)" x="-0.65" y="-1" width="1.3" height="2"/><circle cx="135.1" cy="623.68" r="1.5"/><circle cx="162.95" cy="637.3" r="1.5"/><rect transform="translate(138.81 617.55) rotate(298.42)" x="-0.65" y="-1" width="1.3" height="2"/><rect transform="translate(165.02 631.74) rotate(298.42)" x="-0.65" y="-1" width="1.3" height="2"/><circle cx="141.91" cy="611.09" r="1.5"/><circle cx="168.54" cy="626.96" r="1.5"/><rect transform="translate(146.12 605.29) rotate(303.16)" x="-0.65" y="-1" width="1.3" height="2"/><rect transform="translate(171.07 621.59) rotate(303.16)" x="-0.65" y="-1" width="1.3" height="2"/><circle cx="149.74" cy="599.11" r="1.5"/><circle cx="174.97" cy="617.12" r="1.5"/><rect transform="translate(154.42 593.68) rotate(307.89)" x="-0.65" y="-1" width="1.3" height="2"/><rect transform="translate(177.93 611.98) rotate(307.89)" x="-0.65" y="-1" width="1.3" height="2"/><circle cx="158.53" cy="587.81" r="1.5"/><circle cx="182.19" cy="607.85" r="1.5"/><rect transform="translate(163.64 582.78) rotate(312.63)" x="-0.65" y="-1" width="1.3" height="2"/><rect transform="translate(185.57 602.97) rotate(312.63)" x="-0.65" y="-1" width="1.3" height="2"/><circle cx="168.23" cy="577.28" r="1.5"/><circle cx="190.15" cy="599.2" r="1.5"/><rect transform="translate(173.73 572.69) rotate(317.37)" x="-0.65" y="-1" width="1.3" height="2"/><rect transform="translate(193.92 594.62) rotate(317.37)" x="-0.65" y="-1" width="1.3" height="2"/><circle cx="178.76" cy="567.58" r="1.5"/><circle cx="198.8" cy="591.24" r="1.5"/><rect transform="translate(184.63 563.47) rotate(322.11)" x="-0.65" y="-1" width="1.3" height="2"/><rect transform="translate(202.93 586.98) rotate(322.11)" x="-0.65" y="-1" width="1.3" height="2"/><circle cx="190.06" cy="558.79" r="1.5"/><circle cx="208.07" cy="584.02" r="1.5"/><rect transform="translate(196.24 555.17) rotate(326.84)" x="-0.65" y="-1" width="1.3" height="2"/><rect transform="translate(212.54 580.12) rotate(326.84)" x="-0.65" y="-1" width="1.3" height="2"/><circle cx="202.04" cy="550.96" r="1.5"/><circle cx="217.91" cy="577.59" r="1.5"/><rect transform="translate(208.5 547.86) rotate(331.58)" x="-0.65" y="-1" width="1.3" height="2"/><rect transform="translate(222.69 574.07) rotate(331.58)" x="-0.65" y="-1" width="1.3" height="2"/><circle cx="214.63" cy="544.15" r="1.5"/><circle cx="228.25" cy="572" r="1.5"/><rect transform="translate(221.33 541.6) rotate(336.32)" x="-0.65" y="-1" width="1.3" height="2"/><rect transform="translate(233.3 568.89) rotate(336.32)" x="-0.65" y="-1" width="1.3" height="2"/><circle cx="227.74" cy="538.4" r="1.5"/><circle cx="239.01" cy="567.28" r="1.5"/><rect transform="translate(234.62 536.41) rotate(341.05)" x="-0.65" y="-1" width="1.3" height="2"/><rect transform="translate(244.3 564.59) rotate(341.05)" x="-0.65" y="-1" width="1.3" height="2"/><circle cx="241.28" cy="533.75" r="1.5"/><circle cx="250.13" cy="563.46" r="1.5"/><rect transform="translate(248.3 532.33) rotate(345.79)" x="-0.65" y="-1" width="1.3" height="2"/><rect transform="translate(255.62 561.22) rotate(345.79)" x="-0.65" y="-1" width="1.3" height="2"/><circle cx="255.16" cy="530.24" r="1.5"/><circle cx="261.52" cy="560.58" r="1.5"/><rect transform="translate(262.27 529.41) rotate(350.53)" x="-0.65" y="-1" width="1.3" height="2"/><rect transform="translate(267.18 558.8) rotate(350.53)" x="-0.65" y="-1" width="1.3" height="2"/><circle cx="269.28" cy="527.88" r="1.5"/><circle cx="273.11" cy="558.64" r="1.5"/><rect transform="translate(276.44 527.64) rotate(355.26)" x="-0.65" y="-1" width="1.3" height="2"/><rect transform="translate(278.9 557.34) rotate(355.26)" x="-0.65" y="-1" width="1.3" height="2"/><circle cx="283.54" cy="526.7" r="1.5"/><circle cx="284.82" cy="557.67" r="1.5"/><rect transform="translate(290.7 527.05) rotate(360)" x="-0.65" y="-1" width="1.3" height="2"/><rect transform="translate(290.7 556.85) rotate(360)" x="-0.65" y="-1" width="1.3" height="2"/></g><circle cx="290.7" cy="699.75" r="137.9" fill="none" stroke="#000" stroke-width="4.8"/><circle cx="290.7" cy="699.75" r="138.3" fill="none" stroke="#fff" stroke-width="1.1" stroke-dasharray="3.2 2.6"/><path d="M296.3 564.27Q301.65 567.6 307.47 565.19M307.47 565.19Q312.53 568.96 318.53 567.04M318.53 567.04Q323.25 571.21 329.39 569.79M329.39 569.79Q333.76 574.33 339.99 573.43M339.99 573.43Q343.96 578.32 350.26 577.93M350.26 577.93Q353.81 583.13 360.11 583.26M360.11 583.26Q363.23 588.74 369.49 589.39M369.49 589.39Q372.14 595.11 378.34 596.28M378.34 596.28Q380.51 602.19 386.58 603.87M386.58 603.87Q388.26 609.94 394.17 612.11M394.17 612.11Q395.34 618.31 401.06 620.96M401.06 620.96Q401.71 627.22 407.19 630.34M407.19 630.34Q407.32 636.64 412.52 640.19M412.52 640.19Q412.13 646.49 417.02 650.46M417.02 650.46Q416.12 656.69 420.66 661.06M420.66 661.06Q419.24 667.2 423.41 671.92M423.41 671.92Q421.49 677.92 425.26 682.98M425.26 682.98Q422.85 688.8 426.18 694.15M426.18 694.15Q423.3 699.75 426.18 705.35M426.18 705.35Q422.85 710.7 425.26 716.52M425.26 716.52Q421.49 721.58 423.41 727.58M423.41 727.58Q419.24 732.3 420.66 738.44M420.66 738.44Q416.12 742.81 417.02 749.04M417.02 749.04Q412.13 753.01 412.52 759.31M412.52 759.31Q407.32 762.86 407.19 769.16M407.19 769.16Q401.71 772.28 401.06 778.54M401.06 778.54Q395.34 781.19 394.17 787.39M394.17 787.39Q388.26 789.56 386.58 795.63M386.58 795.63Q380.51 797.31 378.34 803.22M378.34 803.22Q372.14 804.39 369.49 810.11M369.49 810.11Q363.23 810.76 360.11 816.24M360.11 816.24Q353.81 816.37 350.26 821.57M350.26 821.57Q343.96 821.18 339.99 826.07M339.99 826.07Q333.76 825.17 329.39 829.71M329.39 829.71Q323.25 828.29 318.53 832.46M318.53 832.46Q312.53 830.54 307.47 834.31M307.47 834.31Q301.65 831.9 296.3 835.23M296.3 835.23Q290.7 832.35 285.1 835.23M285.1 835.23Q279.75 831.9 273.93 834.31M273.93 834.31Q268.87 830.54 262.87 832.46M262.87 832.46Q258.15 828.29 252.01 829.71M252.01 829.71Q247.64 825.17 241.41 826.07M241.41 826.07Q237.44 821.18 231.14 821.57M231.14 821.57Q227.59 816.37 221.29 816.24M221.29 816.24Q218.17 810.76 211.91 810.11M211.91 810.11Q209.26 804.39 203.06 803.22M203.06 803.22Q200.89 797.31 194.82 795.63M194.82 795.63Q193.14 789.56 187.23 787.39M187.23 787.39Q186.06 781.19 180.34 778.54M180.34 778.54Q179.69 772.28 174.21 769.16M174.21 769.16Q174.08 762.86 168.88 759.31M168.88 759.31Q169.27 753.01 164.38 749.04M164.38 749.04Q165.28 742.81 160.74 738.44M160.74 738.44Q162.16 732.3 157.99 727.58M157.99 727.58Q159.91 721.58 156.14 716.52M156.14 716.52Q158.55 710.7 155.22 705.35M155.22 705.35Q158.1 699.75 155.22 694.15M155.22 694.15Q158.55 688.8 156.14 682.98M156.14 682.98Q159.91 677.92 157.99 671.92M157.99 671.92Q162.16 667.2 160.74 661.06M160.74 661.06Q165.28 656.69 164.38 650.46M164.38 650.46Q169.27 646.49 168.88 640.19M168.88 640.19Q174.08 636.64 174.21 630.34M174.21 630.34Q179.69 627.22 180.34 620.96M180.34 620.96Q186.06 618.31 187.23 612.11M187.23 612.11Q193.14 609.94 194.82 603.87M194.82 603.87Q200.89 602.19 203.06 596.28M203.06 596.28Q209.26 595.11 211.91 589.39M211.91 589.39Q218.17 588.74 221.29 583.26M221.29 583.26Q227.59 583.13 231.14 577.93M231.14 577.93Q237.44 578.32 241.41 573.43M241.41 573.43Q247.64 574.33 252.01 569.79M252.01 569.79Q258.15 571.21 262.87 567.04M262.87 567.04Q268.87 568.96 273.93 565.19M273.93 565.19Q279.75 567.6 285.1 564.27M285.1 564.27Q290.7 567.15 296.3 564.27" stroke="#000" stroke-width="1.4" fill="#000"/><use href="#canopy" transform="translate(603.85 -24.1)"/><path d="M864.45 250.7L733.45 575.5M924.65 250.7L1055.65 575.5" stroke="#000" stroke-width="1.05" fill="none"/><use href="#lamp" transform="translate(603.85 111.5)"/><g fill="#000" stroke="#000" stroke-width="2" stroke-linejoin="round"><path d="M1123.5 602.2L1111.9 586.6C1110.1 577.1 1114.3 568.6 1123.5 568.6C1132.7 568.6 1136.9 577.1 1135.1 586.6Z"/><path d="M1123.5 602.2L1134.75 586.35C1143.23 581.7 1152.61 583.07 1155.46 591.82C1158.3 600.57 1151.51 607.19 1141.92 608.41Z"/><path d="M1123.5 602.2L1142.05 608C1149.09 614.63 1150.69 623.98 1143.25 629.38C1135.81 634.79 1127.41 630.38 1123.28 621.64Z"/><path d="M1123.5 602.2L1123.72 621.64C1119.59 630.38 1111.19 634.79 1103.75 629.38C1096.31 623.98 1097.91 614.63 1104.95 608Z"/><path d="M1123.5 602.2L1105.08 608.41C1095.49 607.19 1088.7 600.57 1091.54 591.82C1094.39 583.07 1103.77 581.7 1112.25 586.35Z"/></g><g fill="#1e1e1e"><path d="M1123.5 602.2L1111.9 586.6C1110.1 577.1 1114.3 568.6 1123.5 568.6C1132.7 568.6 1136.9 577.1 1135.1 586.6Z"/><path d="M1123.5 602.2L1134.75 586.35C1143.23 581.7 1152.61 583.07 1155.46 591.82C1158.3 600.57 1151.51 607.19 1141.92 608.41Z"/><path d="M1123.5 602.2L1142.05 608C1149.09 614.63 1150.69 623.98 1143.25 629.38C1135.81 634.79 1127.41 630.38 1123.28 621.64Z"/><path d="M1123.5 602.2L1123.72 621.64C1119.59 630.38 1111.19 634.79 1103.75 629.38C1096.31 623.98 1097.91 614.63 1104.95 608Z"/><path d="M1123.5 602.2L1105.08 608.41C1095.49 607.19 1088.7 600.57 1091.54 591.82C1094.39 583.07 1103.77 581.7 1112.25 586.35Z"/></g><path d="M1115 588.58L1115 575.26M1118 592.33L1118 572.26M1121 596.08L1121 570.55M1124 598.58L1124 570.12M1127 594.83L1127 570.98M1130 591.08L1130 573.12M1133 587.33L1133 576.55M1133.83 589.91L1146.49 585.79M1131.19 593.92L1150.27 587.72M1128.55 597.93L1152.83 590.04M1127.1 601.56L1154.17 592.76M1131.6 603.25L1154.28 595.88M1136.09 604.94L1153.17 599.39M1140.58 606.64L1150.83 603.31M1138.39 608.23L1146.21 619M1133.75 606.96L1145.55 623.19M1129.12 605.69L1144.13 626.34M1125.23 605.43L1141.95 628.45M1125 610.22L1139.02 629.52M1124.78 615.02L1135.34 629.55M1124.56 619.82L1130.89 628.54M1122.37 618.22L1114.54 628.99M1122.15 613.42L1110.35 629.65M1121.92 608.62L1106.92 629.28M1120.96 604.84L1104.24 627.86M1116.33 606.11L1102.31 625.4M1111.7 607.38L1101.15 621.91M1107.07 608.65L1100.74 617.37M1107.92 606.07L1095.25 601.96M1112.41 604.38L1093.33 598.18M1116.9 602.68L1092.62 594.8M1120.21 600.6L1093.14 591.81M1117.57 596.59L1094.88 589.22M1114.93 592.58L1097.85 587.03M1112.29 588.57L1102.04 585.24" stroke="#4d4d4d" stroke-width="0.7" fill="none"/><path d="M1123.5 602.2L1111.9 586.6M1123.5 602.2L1134.75 586.35M1123.5 602.2L1142.05 608M1123.5 602.2L1123.72 621.64M1123.5 602.2L1105.08 608.41" stroke="#000" stroke-width="1" fill="none"/><circle cx="1123.5" cy="602.2" r="2.6" fill="#1a1a1a" stroke="#bbb" stroke-width="1"/><circle cx="1123.5" cy="602.2" r="0.8" fill="#ddd"/><path d="M853.6 201.3H936.2M853.6 198.3V246M936.2 198.3V246M936.2 232H1090.5M1087.5 232V632.8M698.5 565.9V632.8M712.5 616.2H1077M713.6 612.5V632.5M1076.4 612.5V632.5" stroke="#cfe6ff" stroke-width="3" fill="none"/><path d="M853.6 201.3H936.2M853.6 198.3V246M936.2 198.3V246M936.2 232H1090.5M1087.5 232V632.8M698.5 565.9V632.8M712.5 616.2H1077M713.6 612.5V632.5M1076.4 612.5V632.5" stroke="#4682cc" stroke-width="1.5" stroke-dasharray="5.4 1.1" fill="none"/><path d="M1077 632.8H1090.5M695.5 565.9H708.3M695.5 632.8H708.3M853.6 201.3H856M933.8 201.3H936.2" stroke="#4682cc" stroke-width="1.5" fill="none"/><g font-family="Liberation Sans" font-weight="bold" fill="#111" text-anchor="middle"><text x="894.5" y="199.6" font-size="9">180</text><text x="894.4" y="614" font-size="9.2">800</text><text transform="translate(1082.3 432.7) rotate(-90)" x="0" y="0" font-size="10.2">1500</text><text transform="translate(697.0 599.6) rotate(-90)" x="0" y="0" font-size="8.8">140</text></g><circle cx="713.5" cy="844" r="41" fill="none" stroke="#000" stroke-width="1.6"/><circle cx="713.5" cy="843.4" r="31.4" fill="none" stroke="#000" stroke-width="1.6"/><rect x="714.4" y="797" width="3.8" height="8" rx="1.9" fill="none" stroke="#000" stroke-width="1.3"/><rect x="702.8" y="806.2" width="7.2" height="5.4" fill="#111"/><rect x="712.7" y="806.2" width="7.2" height="5.4" fill="#111"/><rect x="705.5" y="808" width="1.6" height="1.8" fill="#ddd"/><rect x="715.5" y="808" width="1.6" height="1.8" fill="#ddd"/><rect transform="translate(696 812.5) rotate(-29.05)" x="-2.4" y="-1.6" width="4.8" height="3.2" fill="#a39c22" stroke="#111" stroke-width="1"/><ellipse transform="translate(688.35 818.35) rotate(45.56)" rx="2" ry="1.4" fill="#fff" stroke="#111" stroke-width="1.1"/><rect transform="translate(682.95 825.55) rotate(-58.87)" x="-2.4" y="-1.6" width="4.8" height="3.2" fill="#a39c22" stroke="#111" stroke-width="1"/><rect transform="translate(678 843.11) rotate(-88.56)" x="-2.4" y="-1.6" width="4.8" height="3.2" fill="#a39c22" stroke="#111" stroke-width="1"/><rect transform="translate(682.95 861.11) rotate(-119.25)" x="-2.4" y="-1.6" width="4.8" height="3.2" fill="#a39c22" stroke="#111" stroke-width="1"/><ellipse transform="translate(688.35 868.76) rotate(-44.55)" rx="2" ry="1.4" fill="#fff" stroke="#111" stroke-width="1.1"/><rect transform="translate(693.75 872.81) rotate(-145.57)" x="-2.4" y="-1.6" width="4.8" height="3.2" fill="#a39c22" stroke="#111" stroke-width="1"/><circle cx="704.1" cy="877.31" r="1" fill="#111"/><rect transform="translate(710.86 878.66) rotate(-175.64)" x="-2.4" y="-1.6" width="4.8" height="3.2" fill="#a39c22" stroke="#111" stroke-width="1"/><rect transform="translate(726.61 810.7) rotate(21.49)" x="-2.4" y="-1.6" width="4.8" height="3.2" fill="#a39c22" stroke="#111" stroke-width="1"/><rect transform="translate(734.71 814.75) rotate(35.95)" x="-2.4" y="-1.6" width="4.8" height="3.2" fill="#a39c22" stroke="#111" stroke-width="1"/><ellipse transform="translate(738.76 818.35) rotate(134.56)" rx="2" ry="1.4" fill="#fff" stroke="#111" stroke-width="1.1"/><rect transform="translate(745.96 828.7) rotate(64.77)" x="-2.4" y="-1.6" width="4.8" height="3.2" fill="#a39c22" stroke="#111" stroke-width="1"/><circle cx="747.76" cy="834.1" r="1" fill="#111"/><rect transform="translate(749.11 844.46) rotate(90.73)" x="-2.4" y="-1.6" width="4.8" height="3.2" fill="#a39c22" stroke="#111" stroke-width="1"/><rect transform="translate(742.81 863.36) rotate(123.44)" x="-2.4" y="-1.6" width="4.8" height="3.2" fill="#a39c22" stroke="#111" stroke-width="1"/><ellipse transform="translate(738.76 868.76) rotate(224.43)" rx="2" ry="1.4" fill="#fff" stroke="#111" stroke-width="1.1"/><rect transform="translate(729.31 875.06) rotate(153.03)" x="-2.4" y="-1.6" width="4.8" height="3.2" fill="#a39c22" stroke="#111" stroke-width="1"/></svg></body></html>
